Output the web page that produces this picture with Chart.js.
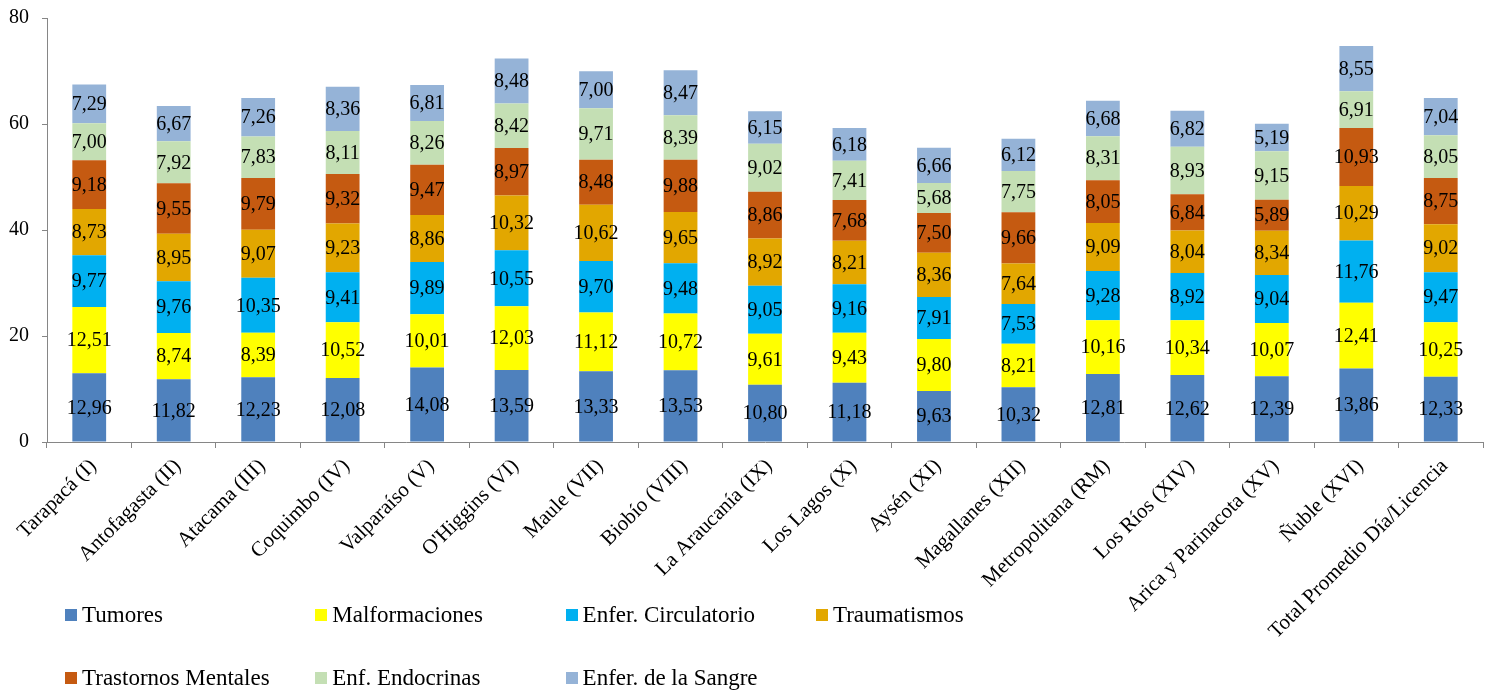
<!DOCTYPE html>
<html lang="es">
<head>
<meta charset="utf-8">
<title>Promedio días por licencia según región</title>
<script src="https://cdn.jsdelivr.net/npm/chart.js@4/dist/chart.umd.min.js"></script>
<style>
  html, body { margin: 0; padding: 0; background: #fff; }
  #wrap { position: relative; width: 1489px; height: 692px; }
  #legend {
    position: absolute; left: 65px; top: 583px;
    display: grid; grid-template-columns: repeat(4, 250.3px); grid-auto-rows: 63px;
    font-family: "Liberation Serif", "Times New Roman", serif; font-size: 23px; color: #000;
  }
  #legend .item { display: flex; align-items: center; white-space: nowrap; }
  #legend .box { width: 12px; height: 12px; margin-right: 5px; flex: none; }
</style>
</head>
<body>
<div id="wrap">
  <canvas id="chart"></canvas>
  <div id="legend"></div>
</div>
<script>
const FONT = '"Liberation Serif", "Times New Roman", serif';

const regiones = [
  "Tarapacá (I)", "Antofagasta (II)", "Atacama (III)", "Coquimbo (IV)", "Valparaíso (V)",
  "O'Higgins (VI)", "Maule (VII)", "Biobío (VIII)", "La Araucanía (IX)", "Los Lagos (X)",
  "Aysén (XI)", "Magallanes (XII)", "Metropolitana (RM)", "Los Ríos (XIV)",
  "Arica y Parinacota (XV)", "Ñuble (XVI)", "Total Promedio Día/Licencia"
];

const tumores          = [12.96, 11.82, 12.23, 12.08, 14.08, 13.59, 13.33, 13.53, 10.80, 11.18, 9.63, 10.32, 12.81, 12.62, 12.39, 13.86, 12.33];
const malformaciones   = [12.51, 8.74, 8.39, 10.52, 10.01, 12.03, 11.12, 10.72, 9.61, 9.43, 9.80, 8.21, 10.16, 10.34, 10.07, 12.41, 10.25];
const circulatorio     = [9.77, 9.76, 10.35, 9.41, 9.89, 10.55, 9.70, 9.48, 9.05, 9.16, 7.91, 7.53, 9.28, 8.92, 9.04, 11.76, 9.47];
const traumatismos     = [8.73, 8.95, 9.07, 9.23, 8.86, 10.32, 10.62, 9.65, 8.92, 8.21, 8.36, 7.64, 9.09, 8.04, 8.34, 10.29, 9.02];
const mentales         = [9.18, 9.55, 9.79, 9.32, 9.47, 8.97, 8.48, 9.88, 8.86, 7.68, 7.50, 9.66, 8.05, 6.84, 5.89, 10.93, 8.75];
const endocrinas       = [7.00, 7.92, 7.83, 8.11, 8.26, 8.42, 9.71, 8.39, 9.02, 7.41, 5.68, 7.75, 8.31, 8.93, 9.15, 6.91, 8.05];
const sangre           = [7.29, 6.67, 7.26, 8.36, 6.81, 8.48, 7.00, 8.47, 6.15, 6.18, 6.66, 6.12, 6.68, 6.82, 5.19, 8.55, 7.04];

const series = [
  { label: "Tumores", data: tumores, color: "#4F81BD" },
  { label: "Malformaciones", data: malformaciones, color: "#FFFF00" },
  { label: "Enfer. Circulatorio", data: circulatorio, color: "#00B0F0" },
  { label: "Traumatismos", data: traumatismos, color: "#E2A700" },
  { label: "Trastornos Mentales", data: mentales, color: "#C55A11" },
  { label: "Enf. Endocrinas", data: endocrinas, color: "#C4DFB4" },
  { label: "Enfer. de la Sangre", data: sangre, color: "#95B3D7" }
];

const yTicks = [0, 20, 40, 60, 80];

// valores dentro de cada segmento, con coma decimal
const segmentLabels = {
  id: "segmentLabels",
  afterDatasetsDraw(chart) {
    const ctx = chart.ctx;
    ctx.save();
    ctx.font = "20px " + FONT;
    ctx.fillStyle = "#000";
    ctx.textAlign = "center";
    ctx.textBaseline = "middle";
    chart.data.datasets.forEach((ds, i) => {
      const meta = chart.getDatasetMeta(i);
      meta.data.forEach((bar, j) => {
        const txt = ds.data[j].toFixed(2).replace(".", ",");
        ctx.fillText(txt, bar.x, (bar.y + bar.base) / 2 + 1);
      });
    });
    ctx.restore();
  }
};

const axisColor = "#868686";

const chart = new Chart(document.getElementById("chart"), {
  type: "bar",
  data: {
    labels: regiones,
    datasets: series.map((s) => ({
      label: s.label,
      data: s.data,
      backgroundColor: s.color,
      borderWidth: 0,
      categoryPercentage: 1,
      barPercentage: 0.4
    }))
  },
  options: {
    responsive: true,
    maintainAspectRatio: false,
    animation: false,
    layout: { padding: { top: 18, right: 6, left: 0, bottom: 0 } },
    plugins: { legend: { display: false }, tooltip: { enabled: false } },
    scales: {
      x: {
        stacked: true,
        grid: { display: true, drawOnChartArea: false, offset: true, color: axisColor, tickLength: 6 },
        border: { color: axisColor },
        ticks: {
          color: "#000",
          font: { family: FONT, size: 21 },
          minRotation: 45,
          maxRotation: 45,
          autoSkip: false,
          padding: 6,
          labelOffset: 4
        },
        afterFit(scale) { scale.height = 250; }
      },
      y: {
        stacked: true,
        min: 0,
        max: 80,
        afterBuildTicks(scale) { scale.ticks = yTicks.map((v) => ({ value: v })); },
        grid: { display: true, drawOnChartArea: false, color: axisColor, tickLength: 5 },
        border: { color: axisColor },
        ticks: { color: "#000", font: { family: FONT, size: 20 }, padding: 13 },
        afterFit(scale) {
          scale.width = 47;
          scale.paddingTop = 0;
          scale.paddingBottom = 0;
        }
      }
    }
  },
  plugins: [segmentLabels]
});

// leyenda en cuadrícula de cuatro columnas
const legendEl = document.getElementById("legend");
legendEl.innerHTML = chart.data.datasets
  .map((ds) => `<div class="item"><span class="box" style="background:${ds.backgroundColor}"></span>${ds.label}</div>`)
  .join("");
</script>
</body>
</html>
